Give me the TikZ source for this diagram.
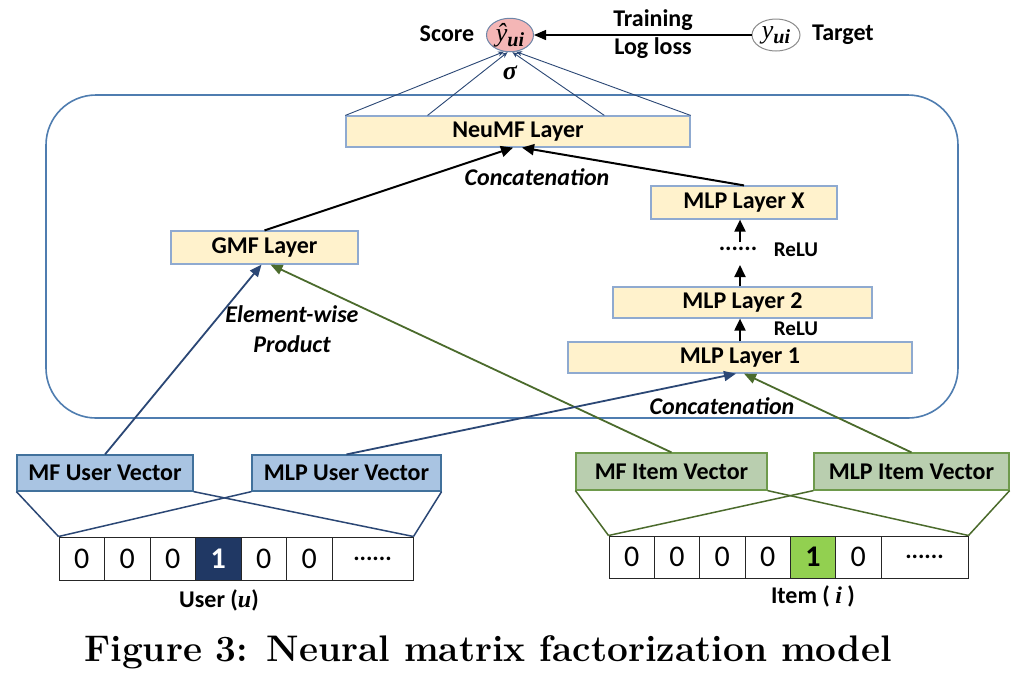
\documentclass[tikz,border=0pt]{standalone}
\usepackage{fontspec}
\newfontfamily\carl{Carlito}
\newfontfamily\tnr{Liberation Serif}
\usetikzlibrary{arrows.meta,shapes.geometric,calc}
\definecolor{layfill}{HTML}{FFF2CC}
\definecolor{laybd}{HTML}{8FAAD0}
\definecolor{bigbd}{HTML}{4F7DB0}
\definecolor{bvfill}{HTML}{A9C4E2}
\definecolor{bvbd}{HTML}{41719C}
\definecolor{gvfill}{HTML}{B9CEAF}
\definecolor{gvbd}{HTML}{6E9A4C}
\definecolor{bline}{HTML}{2B4775}
\definecolor{gline}{HTML}{4B6B2C}
\definecolor{navy}{HTML}{203864}
\definecolor{lgreen}{HTML}{92D050}
\definecolor{pinkf}{HTML}{F4B6B6}
\definecolor{ellbd}{HTML}{6E86A8}
\begin{document}
\begin{tikzpicture}[x=0.5pt,y=-0.5pt,
  lbl/.style={inner sep=0pt,font=\carl\bfseries\fontsize{12}{14}\selectfont},
  ilbl/.style={inner sep=0pt,font=\carl\bfseries\itshape\fontsize{12}{14}\selectfont},
  lay/.style={draw=laybd,fill=layfill,line width=0.6pt,inner sep=0pt,minimum height=15.5pt,font=\carl\bfseries\fontsize{12}{14}\selectfont},
  bvec/.style={draw=bvbd,fill=bvfill,line width=0.6pt,inner sep=0pt,minimum height=18pt,font=\carl\bfseries\fontsize{12}{14}\selectfont},
  gvec/.style={draw=gvbd,fill=gvfill,line width=0.6pt,inner sep=0pt,minimum height=18.5pt,font=\carl\bfseries\fontsize{12}{14}\selectfont},
  cell/.style={draw=black!85,line width=0.5pt,inner sep=0pt,minimum width=22.75pt,font=\carl\fontsize{15}{17}\selectfont},
  blk/.style={line width=1pt,-{Triangle[length=6pt,width=5.5pt]}},
  barr/.style={bline,line width=0.9pt,-{Triangle[length=6pt,width=5pt]}},
  garr/.style={gline,line width=0.9pt,-{Triangle[length=6pt,width=5pt]}},
  thin/.style={bline,line width=0.45pt,-{Stealth[length=3pt,width=2.5pt]}},
  bfan/.style={bline,line width=0.75pt},
  gfan/.style={gline,line width=0.75pt}
]
\useasboundingbox[fill=white] (0,0) rectangle (1019,677);

% big rounded container
\draw[bigbd,line width=0.8pt,rounded corners=25pt] (46,95) rectangle (958,418);

% top
\node[ellipse,draw=ellbd,fill=pinkf,line width=0.5pt,minimum width=23.5pt,minimum height=15.5pt,inner sep=0pt] (score) at (510,35)
  {\tnr\itshape\fontsize{13}{13}\selectfont ŷ\raisebox{-2.5pt}{\fontsize{10}{10}\selectfont\bfseries ui}};
\node[ellipse,draw=black!45,fill=white,line width=0.5pt,minimum width=24pt,minimum height=16pt,inner sep=0pt] (target) at (776,35)
  {\tnr\itshape\fontsize{13}{13}\selectfont y\raisebox{-2.5pt}{\fontsize{10}{10}\selectfont\bfseries ui}};
\node[lbl] (scorelbl) at (447,34) {Score};
\node[lbl] (targetlbl) at (843,35) {Target};
\node[lbl] (training) at (653,20) {Training};
\node[lbl] (logloss) at (653,48) {Log loss};
\node[inner sep=0pt,font=\tnr\bfseries\itshape\fontsize{13}{13}\selectfont] (sigma) at (510,73) {σ};
\draw[line width=0.7pt,-{Triangle[length=6pt,width=5pt]}] (target) -- (score);

% layers
\node[lay,minimum width=172pt] (neumf) at (518,131.5) {NeuMF Layer};
\node[lay,minimum width=93.5pt,minimum height=16.5pt] (gmf) at (264.5,247.5) {GMF Layer};
\node[lay,minimum width=93pt,minimum height=16.5pt] (mlpx) at (744,202.5) {MLP Layer X};
\node[lay,minimum width=129.5pt] (mlp2) at (742.5,302.5) {MLP Layer 2};
\node[lay,minimum width=172pt] (mlp1) at (740,357.5) {MLP Layer 1};

\node[lbl] (dots) at (738,249) {......};
\node[lbl,font=\carl\bfseries\fontsize{10.5}{12}\selectfont] (relu1) at (796,250) {ReLU};
\node[lbl,font=\carl\bfseries\fontsize{10.5}{12}\selectfont] (relu2) at (796,329) {ReLU};
\node[ilbl] (concat1) at (537,177) {Concatenation};
\node[ilbl] (concat2) at (722,406) {Concatenation};
\node[ilbl] (elem) at (292,314) {Element-wise};
\node[ilbl] (product) at (292,344) {Product};

% fan into score
\coordinate (n2) at ($(neumf.north west)!0.238!(neumf.north east)$);
\coordinate (n3) at ($(neumf.north west)!0.75!(neumf.north east)$);
\draw[thin] (neumf.north west) -- (score.250);
\draw[thin] (n2) -- (score.262);
\draw[thin] (n3) -- (score.278);
\draw[thin] (neumf.north east) -- (score.290);

% black arrows
\draw[blk] (gmf.north) -- ($(neumf.south)+(-5,0)$);
\draw[blk] (mlpx.north) -- ($(neumf.south)+(4,0)$);
\coordinate (c1) at (740,242);
\coordinate (c2) at (740,265);
\draw[blk] (c1) -- (c1 |- mlpx.south);
\draw[blk] (c2 |- mlp2.north) -- (c2);
\draw[blk] (c2 |- mlp1.north) -- (c2 |- mlp2.south);

% vectors
\node[bvec,minimum width=88pt] (mfu) at (105,473) {MF User Vector};
\node[bvec,minimum width=94.5pt] (mlpu) at (346.5,473) {MLP User Vector};
\node[gvec,minimum width=95.5pt] (mfi) at (671.5,471.5) {MF Item Vector};
\node[gvec,minimum width=97.5pt] (mlpi) at (911.5,471.5) {MLP Item Vector};

\draw[barr] (mfu.north) -- ($(gmf.south)+(-3,0)$);
\draw[garr] (mfi.north) -- ($(gmf.south)+(6,0)$);
\draw[barr] (mlpu.north) -- ($(mlp1.south)+(-4,0)$);
\draw[garr] (mlpi.north) -- ($(mlp1.south)+(4,0)$);

% user one-hot
\node[cell,minimum height=21.5pt] (u1) at (81.75,558.5) {0};
\node[cell,minimum height=21.5pt] (u2) at (127.25,558.5) {0};
\node[cell,minimum height=21.5pt] (u3) at (172.75,558.5) {0};
\node[cell,minimum height=21.5pt,fill=navy,text=white,font=\carl\bfseries\fontsize{15}{17}\selectfont] (u4) at (218.25,558.5) {1};
\node[cell,minimum height=21.5pt] (u5) at (263.75,558.5) {0};
\node[cell,minimum height=21.5pt] (u6) at (309.25,558.5) {0};
\node[cell,minimum height=21.5pt,minimum width=40.5pt,font=\carl\bfseries\fontsize{12}{14}\selectfont] (u7) at (372.5,558.5) {......};
\node[lbl] (userlbl) at (219,600) {User (\textit{\tnr\bfseries u})};

% item one-hot
\node[cell,minimum height=21pt,minimum width=22.67pt] (i1) at (631.67,557) {0};
\node[cell,minimum height=21pt,minimum width=22.67pt] (i2) at (677,557) {0};
\node[cell,minimum height=21pt,minimum width=22.67pt] (i3) at (722.33,557) {0};
\node[cell,minimum height=21pt,minimum width=22.67pt] (i4) at (767.67,557) {0};
\node[cell,minimum height=21pt,minimum width=22.67pt,fill=lgreen,font=\carl\bfseries\fontsize{15}{17}\selectfont] (i5) at (813,557) {1};
\node[cell,minimum height=21pt,minimum width=22.67pt] (i6) at (858.33,557) {0};
\node[cell,minimum height=21pt,minimum width=43.5pt,font=\carl\bfseries\fontsize{12}{14}\selectfont] (i7) at (924.5,557) {......};
\node[lbl] (itemlbl) at (813,596) {Item ( \textit{\tnr\bfseries i} )};

% fans
\draw[bfan] (mfu.south west) -- (u1.north west);
\draw[bfan] (mfu.south east) -- (u7.north east);
\draw[bfan] (mlpu.south west) -- (u1.north west);
\draw[bfan] (mlpu.south east) -- (u7.north east);
\draw[gfan] (mfi.south west) -- (i1.north west);
\draw[gfan] (mfi.south east) -- (i7.north east);
\draw[gfan] (mlpi.south west) -- (i1.north west);
\draw[gfan] (mlpi.south east) -- (i7.north east);

% caption
\node[inner sep=0pt,font=\normalfont\bfseries\fontsize{18.5}{20}\selectfont] (caption) at (488,652) {Figure 3: Neural matrix factorization model};
\end{tikzpicture}
\end{document}
